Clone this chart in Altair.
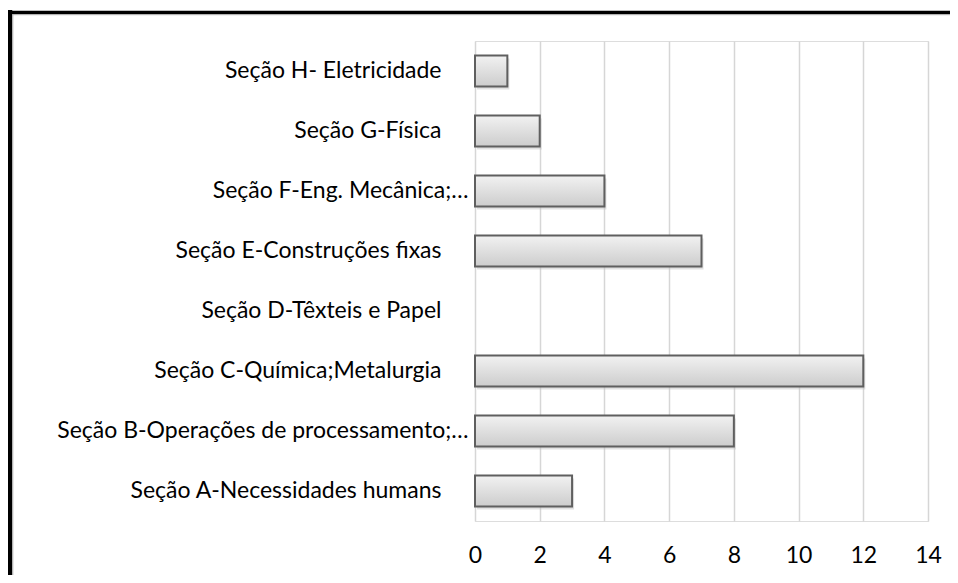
import altair as alt
import pandas as pd

categories = [
    "Seção H- Eletricidade",
    "Seção G-Física",
    "Seção F-Eng. Mecânica;…",
    "Seção E-Construções fixas",
    "Seção D-Têxteis e Papel",
    "Seção C-Química;Metalurgia",
    "Seção B-Operações de processamento;…",
    "Seção A-Necessidades humans",
]
values = [1, 2, 4, 7, 0, 12, 8, 3]
x_ticks = [0, 2, 4, 6, 8, 10, 12, 14]

df = pd.DataFrame({"cat": categories, "value": values})

FONT = "Lato"
FS = 23

y_enc = alt.Y("cat:N", sort=categories, title=None,
              scale=alt.Scale(domain=categories, paddingInner=0.48, paddingOuter=0.24),
              axis=alt.Axis(domain=False, ticks=False,
                            labelPadding={"condition": {"test": "indexof(datum.label, '…') >= 0", "value": 7},
                                          "value": 34},
                            labelFont=FONT, labelFontSize=FS, labelColor="#000000",
                            labelLimit=0))
x_enc = alt.X("value:Q", title=None,
              scale=alt.Scale(domain=[0, 14], nice=False),
              axis=alt.Axis(values=x_ticks, domain=False, ticks=False, grid=True,
                            gridColor="#d6d6d6", gridWidth=1.5, labelPadding=23,
                            labelFont=FONT, labelFontSize=FS, labelColor="#000000",
                            labelFlush=False))

base = alt.Chart(df).transform_filter("datum.value > 0")

shadow = base.mark_bar(color="#bdbdbd", opacity=0.45, xOffset=2, yOffset=3).encode(
    y=y_enc, x=x_enc)

bars = base.mark_bar(
    color=alt.Gradient(
        gradient="linear",
        stops=[alt.GradientStop(color="#f2f2f2", offset=0),
               alt.GradientStop(color="#cccccc", offset=1)],
        x1=0, x2=0, y1=0, y2=1),
    stroke="#5f5f5f", strokeWidth=2,
).encode(y=y_enc, x=x_enc)

one = alt.Data(values=[{"k": 1}])
left_border = alt.Chart(one).mark_rule(color="#000000", strokeWidth=4.5).encode(
    x=alt.value(-465), y=alt.value(-31), y2=alt.value(620))
top_border = alt.Chart(one).mark_rule(color="#000000", strokeWidth=3.5).encode(
    x=alt.value(-467), x2=alt.value(620), y=alt.value(-28.5))
left_inner = alt.Chart(one).mark_rule(color="#b0b0b0", strokeWidth=1).encode(
    x=alt.value(-462.2), y=alt.value(-26.5), y2=alt.value(620))
top_inner = alt.Chart(one).mark_rule(color="#b0b0b0", strokeWidth=1).encode(
    x=alt.value(-462.5), x2=alt.value(620), y=alt.value(-26.3))

chart = alt.layer(shadow, bars, left_border, top_border, left_inner, top_inner).properties(
    width=453, height=480,
    autosize=alt.AutoSizeParams(type="none"),
    padding={"left": 467, "top": 33, "right": 22, "bottom": 54},
).configure_view(stroke=None).configure(background="#ffffff")

chart.save("out.html", embed_options={"renderer": "svg", "actions": False})
